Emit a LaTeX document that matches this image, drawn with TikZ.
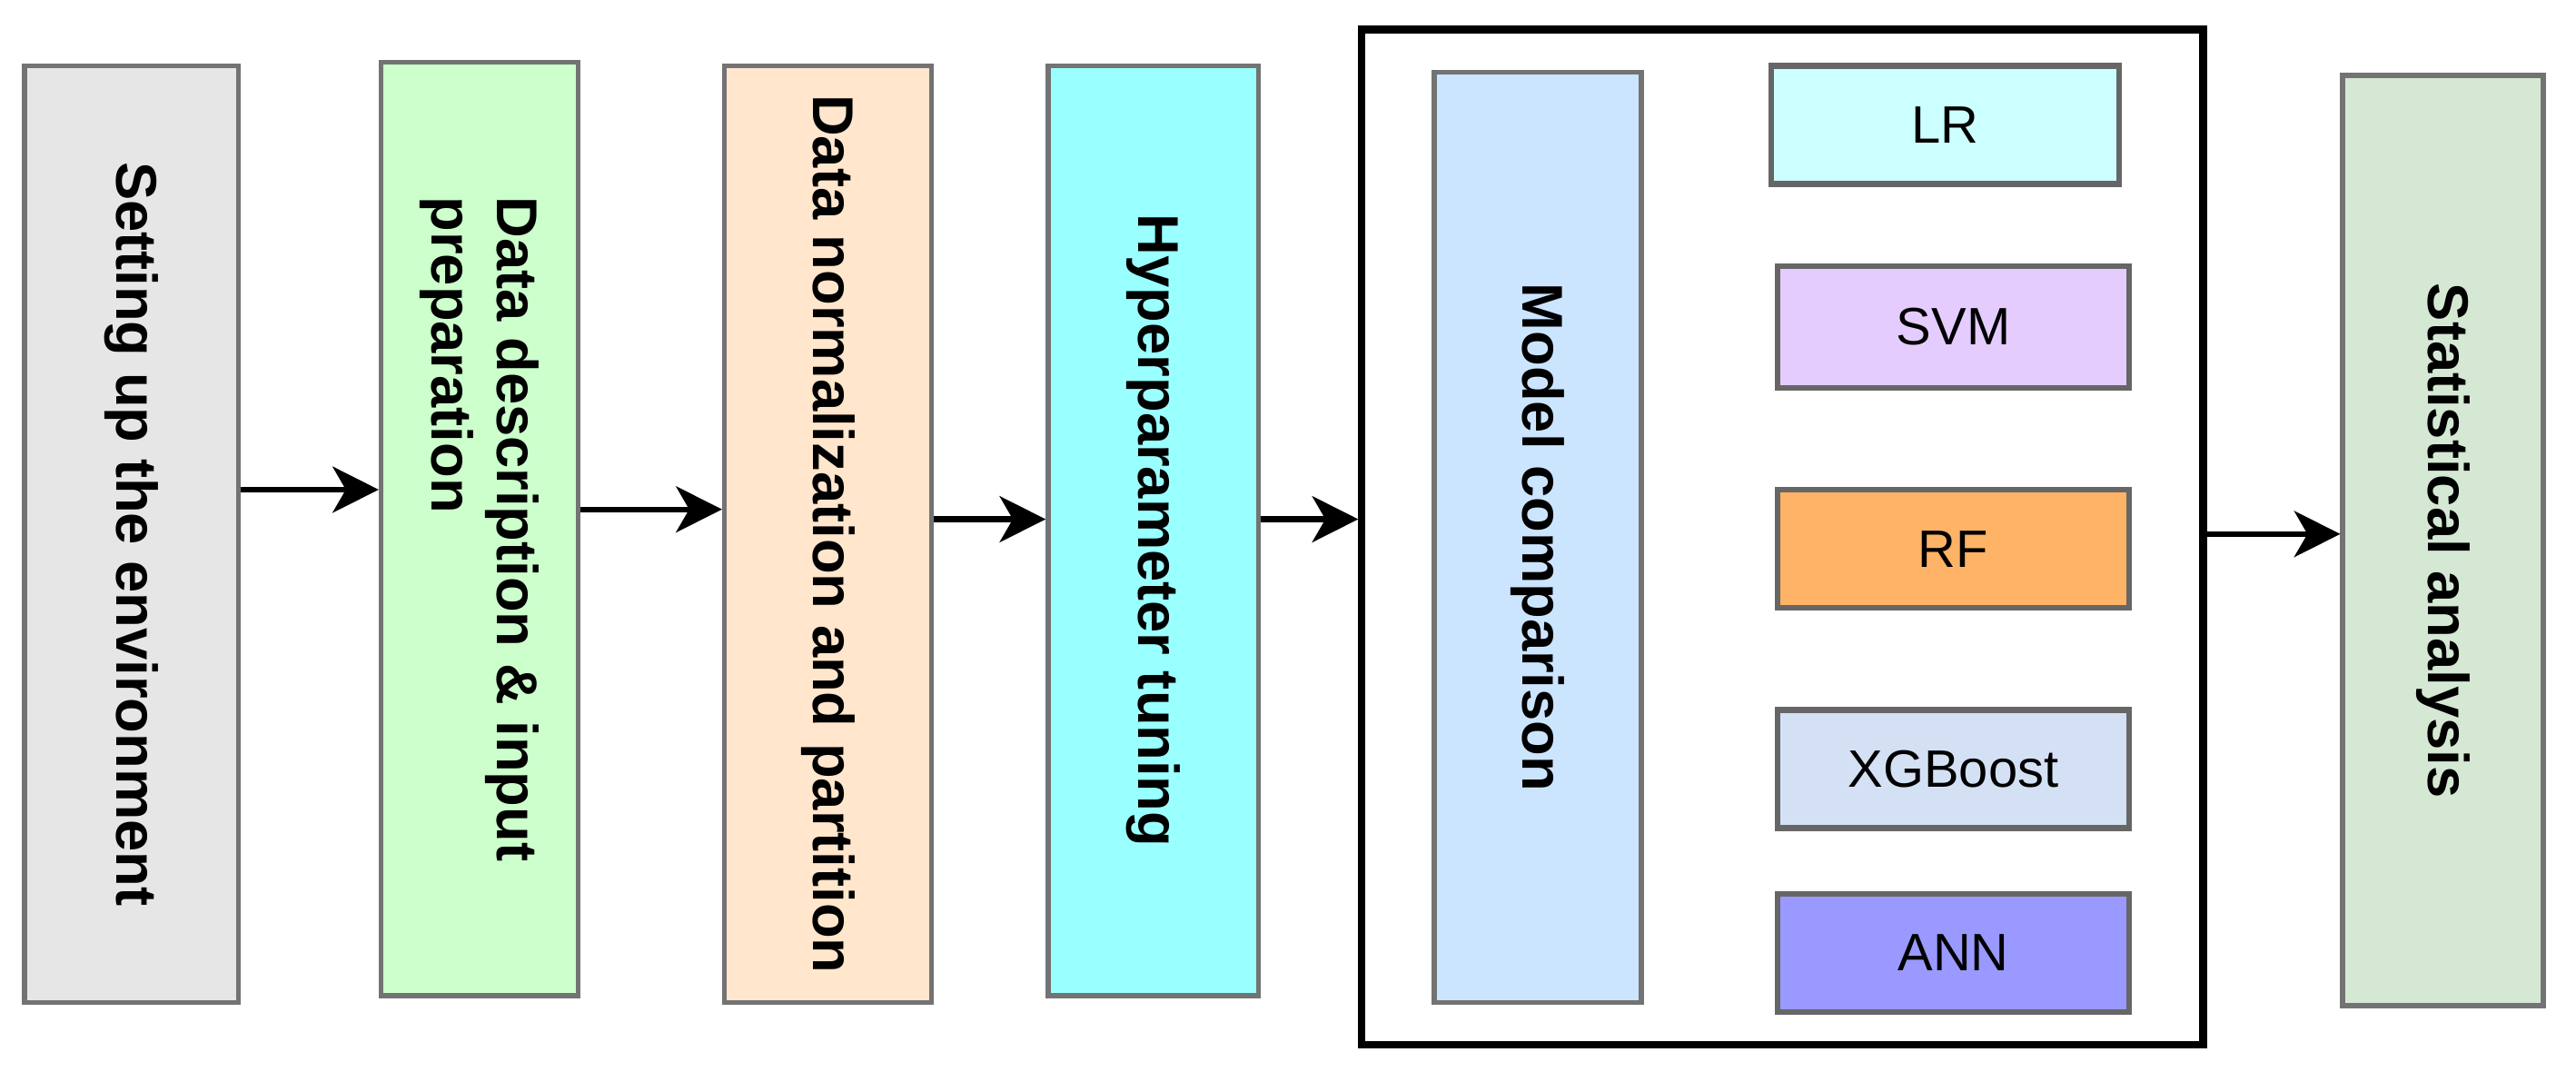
\documentclass[tikz,border=0pt]{standalone}
\usepackage{fontspec}
\setmainfont{Liberation Sans}
\usetikzlibrary{arrows.meta}
\definecolor{cA}{HTML}{E6E6E6}
\definecolor{cB}{HTML}{CCFFCC}
\definecolor{cC}{HTML}{FFE6CC}
\definecolor{cD}{HTML}{99FFFF}
\definecolor{cE}{HTML}{CCE5FF}
\definecolor{cG}{HTML}{D5E8D4}
\definecolor{cLR}{HTML}{CCFFFF}
\definecolor{cSVM}{HTML}{E5CCFF}
\definecolor{cRF}{HTML}{FFB366}
\definecolor{cXG}{HTML}{D4E1F5}
\definecolor{cANN}{HTML}{9999FF}
\begin{document}
\begin{tikzpicture}[x=1pt,y=-1pt,
  box/.style={draw=black!55,line width=3pt,inner sep=0pt,font=\fontsize{35}{40}\selectfont\bfseries},
  vbox/.style={box,rotate=-90,align=left},
  mbox/.style={box,draw=black!60,line width=3.5pt,font=\fontsize{32}{36}\selectfont},
  arr/.style={line width=3.5pt,-{Stealth[length=28pt,width=28pt,inset=8pt]}}]
\useasboundingbox (0,0) rectangle (1568,652);
\newcommand{\vb}[7]{\node[vbox,fill=#6,minimum width=#4-#2,minimum height=#3-#1] (#7) at ({(#1+#3)/2},{(#2+#4)/2}) {#5};}
\vb{15}{40}{145}{610}{Setting up the environment}{cA}{a}
\vb{232}{38}{352}{606}{Data description \& input\\preparation}{cB}{b}
\vb{441}{40}{567}{610}{Data normalization  and partition}{cC}{c}
\vb{638}{40}{766}{606}{Hyperparameter tuning}{cD}{d}
\node[draw=black,line width=4.5pt,minimum width=512pt,minimum height=618pt,inner sep=0pt] (f) at (1085,327) {};
\vb{873}{44}{999}{610}{Model comparison}{cE}{e}
\vb{1426}{46}{1548}{612}{Statistical analysis}{cG}{g}
\node[mbox,fill=cLR,minimum width=212pt,minimum height=72pt] (lr) at (1184,76) {LR};
\node[mbox,fill=cSVM,minimum width=214pt,minimum height=74pt] (svm) at (1189,199) {SVM};
\node[mbox,fill=cRF,minimum width=214pt,minimum height=72pt] (rf) at (1189,334) {RF};
\node[mbox,fill=cXG,minimum width=214pt,minimum height=72pt] (xg) at (1189,468) {XGBoost};
\node[mbox,fill=cANN,minimum width=214pt,minimum height=72pt] (ann) at (1189,580) {ANN};
\draw[arr] (a.north|-0,298) -- (b.south|-0,298);
\draw[arr] (b.north|-0,310) -- (c.south|-0,310);
\draw[arr] (c.north|-0,316) -- (d.south|-0,316);
\draw[arr] (d.north|-0,316) -- (f.west|-0,316);
\draw[arr] (f.east|-0,325) -- (g.south|-0,325);
\end{tikzpicture}
\end{document}
